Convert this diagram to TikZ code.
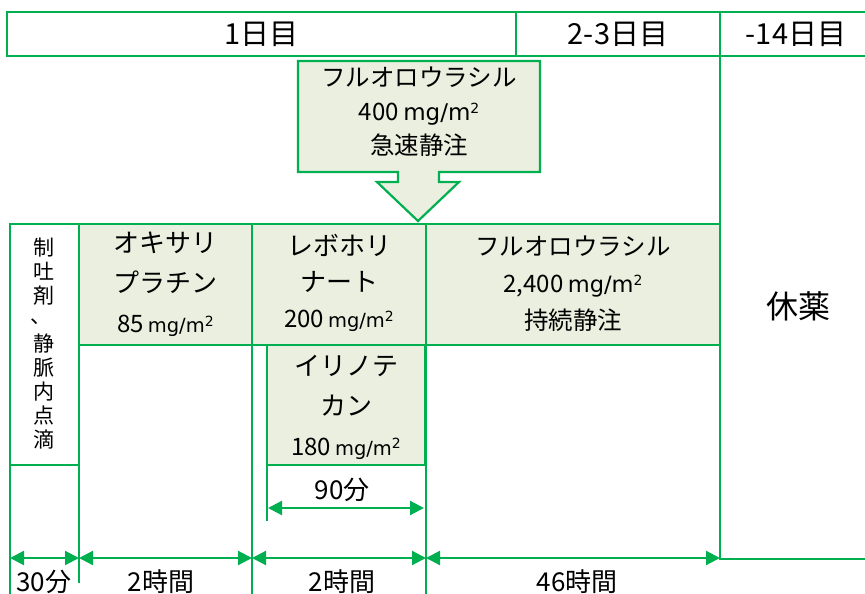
\documentclass[tikz,border=0pt]{standalone}
\usepackage{fontspec}
\setmainfont{Noto Sans CJK JP}
\newfontfamily\dejavu{DejaVu Sans}
\usetikzlibrary{arrows.meta}
\definecolor{grn}{HTML}{00B050}
\definecolor{bge}{HTML}{EBEFDF}
\newcommand{\mgm}[1]{{\fontsize{#1}{#1}\selectfont\dejavu\hspace{0.2em}mg/m\raisebox{0.33em}{\fontsize{14}{14}\selectfont 2}}}
\begin{document}
\begin{tikzpicture}[x=1pt,y=-1pt,
  line/.style={grn,line width=2.2pt},
  hdr/.style={draw=grn,line width=2.2pt,fill=white,inner sep=0pt,outer sep=0pt,anchor=north west,font=\fontsize{29}{29}\selectfont},
  box/.style={draw=grn,line width=2.2pt,fill=bge,inner sep=0pt,outer sep=0pt,anchor=north west},
  txt/.style={inner sep=0pt,align=center,font=\fontsize{26}{40}\selectfont},
  lab/.style={inner sep=0pt,font=\fontsize{26}{26}\selectfont},
  dim/.style={grn,line width=2.2pt,{Triangle[length=14pt,width=14pt]}-{Triangle[length=14pt,width=14pt]}}]
\useasboundingbox (0,0) rectangle (865,594);
% header
\node[hdr,minimum width=509pt,minimum height=44pt] (d1) at (7,12) {1日目};
\node[hdr,minimum width=204pt,minimum height=44pt] (d23) at (516,12) {2-3日目};
\node[hdr,minimum width=152pt,minimum height=44pt] (d14) at (720,12) {-14日目};
% rest period lines
\coordinate (r1) at (720,559);
\coordinate (r2) at (866,559);
\draw[line] (d14.south west) -- (r1) -- (r2);
\node[inner sep=0pt,font=\fontsize{32}{32}\selectfont] (rest) at (798,306) {休薬};
% bolus box with arrow
\draw[line,fill=bge] (298,61) -- (540,61) -- (540,172) -- (439,172) -- (439,182) -- (459,182)
  -- (418,221) -- (377,182) -- (398,182) -- (398,172) -- (298,172) -- cycle;
\node[txt,font=\fontsize{24.5}{34}\selectfont] (bolus) at (419,112) {フルオロウラシル\\\fontsize{24}{34}\selectfont 400\mgm{23}\\急速静注};
% left strip
\node[box,fill=white,minimum width=69pt,minimum height=241pt] (anti) at (10,224) {};
\node[txt,font=\fontsize{21}{24}\selectfont] (antit) at (44,344)
  {制\\吐\\剤\\\hspace*{-6pt}\raisebox{4pt}{、}\\静\\脈\\内\\点\\滴};
% drug boxes
\node[box,minimum width=173pt,minimum height=121pt] (oxa) at (79,224) {};
\node[txt] (oxat) at (oxa.center) {オキサリ\\プラチン\\\fontsize{24}{40}\selectfont 85\mgm{19.5}};
\node[box,minimum width=174pt,minimum height=121pt] (levo) at (252,224) {};
\node[txt,font=\fontsize{26}{36}\selectfont] (levot) at (339,283) {レボホリ\\ナート\\\fontsize{24}{36}\selectfont 200\mgm{19.5}};
\node[box,minimum width=294pt,minimum height=121pt] (fu) at (426,224) {};
\node[txt,font=\fontsize{24.5}{37}\selectfont] (fut) at (573,284) {フルオロウラシル\\\fontsize{24}{37}\selectfont 2,400\mgm{22.5}\\持続静注};
\node[box,minimum width=158pt,minimum height=120pt] (iri) at (267,345) {};
\node[txt] (irit) at (346,407) {イリノテ\\カン\\\fontsize{24}{40}\selectfont 180\mgm{19.5}};
% vertical guide lines
\coordinate (g1) at (10,594);
\coordinate (g2) at (79,583);
\coordinate (g3) at (252,594);
\coordinate (g4) at (267,521);
\coordinate (g5) at (426,594);
\draw[line] (anti.south west) -- (g1);
\draw[line] (anti.south east) -- (g2);
\draw[line] (levo.south west) -- (g3);
\draw[line] (iri.south west) -- (g4);
\draw[line] (fu.south west) -- (g5);
% 90 min
\coordinate (n1) at (268,508);
\coordinate (n2) at (424,508);
\draw[dim] (n1) -- (n2);
\node[lab] (l90) at (342,490) {90分};
% bottom dimension arrows
\coordinate (t0) at (10,558);
\coordinate (t1) at (79,558);
\coordinate (t2) at (252,558);
\coordinate (t3) at (426,558);
\coordinate (t4) at (720,558);
\draw[dim] (t0) -- (t1);
\draw[dim] (t1) -- (t2);
\draw[dim] (t2) -- (t3);
\draw[dim] (t3) -- (t4);
\node[lab] (l30) at (44,582) {30分};
\node[lab] (l2a) at (161,582) {2時間};
\node[lab] (l2b) at (342,582) {2時間};
\node[lab] (l46) at (577,582) {46時間};
\end{tikzpicture}
\end{document}
